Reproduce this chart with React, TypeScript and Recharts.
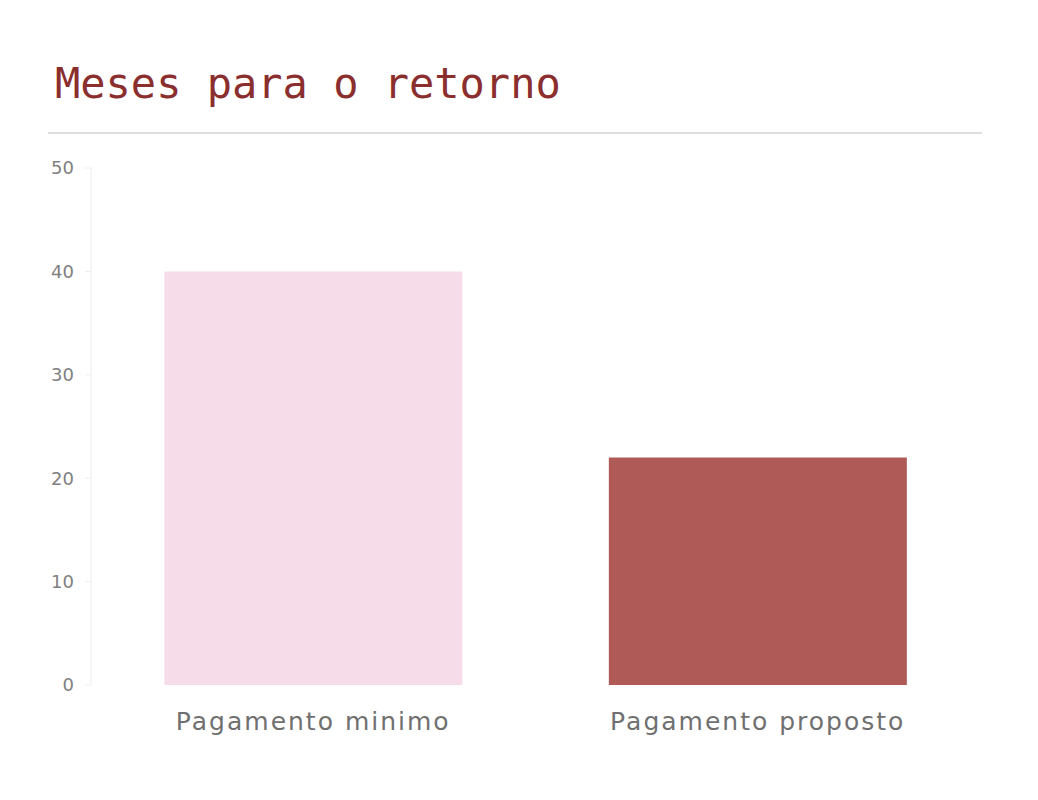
import { BarChart, Bar, XAxis, YAxis, Cell } from 'recharts'

const categories = ['Pagamento minimo', 'Pagamento proposto']
const months = [40, 22]
const yTicks = [0, 10, 20, 30, 40, 50]

const barColors = ['#F5DCE8', '#B05A58']

const data = categories.map((name, i) => ({ name, months: months[i] }))

export default function App() {
  return (
    <div style={{ position: 'absolute', left: 0, top: 0, width: 1038, height: 800, background: '#fff' }}>
      <div
        style={{
          position: 'absolute',
          left: 55,
          top: 63,
          fontFamily: '"DejaVu Sans Mono", monospace',
          fontSize: 42,
          lineHeight: '42px',
          color: '#8B2E2E',
          whiteSpace: 'nowrap',
        }}
      >
        Meses para o retorno
      </div>
      <div style={{ position: 'absolute', left: 48, top: 132, width: 934, height: 2, background: '#DDDDDD' }} />

      <div style={{ position: 'absolute', left: 0, top: 0 }}>
        <BarChart
          width={1038}
          height={800}
          data={data}
          margin={{ top: 168, right: 58, bottom: 55, left: 0 }}
          barCategoryGap="16.5%"
        >
          <YAxis
            width={91}
            domain={[0, 50]}
            ticks={yTicks}
            interval={0}
            axisLine={{ stroke: '#EEEEEE' }}
            tickLine={{ stroke: '#EEEEEE' }}
            tickSize={6}
            tickMargin={11}
            tick={{ fill: '#808080', fontSize: 18, fontFamily: '"DejaVu Sans", sans-serif' }}
          />
          <XAxis
            dataKey="name"
            height={60}
            axisLine={false}
            tickLine={false}
            tickSize={0}
            tickMargin={27}
            tick={{ fill: '#707070', fontSize: 25, letterSpacing: 2, fontFamily: '"DejaVu Sans", sans-serif' }}
          />
          <Bar dataKey="months" isAnimationActive={false}>
            {data.map((d, i) => (
              <Cell key={d.name} fill={barColors[i]} />
            ))}
          </Bar>
        </BarChart>
      </div>
    </div>
  )
}
